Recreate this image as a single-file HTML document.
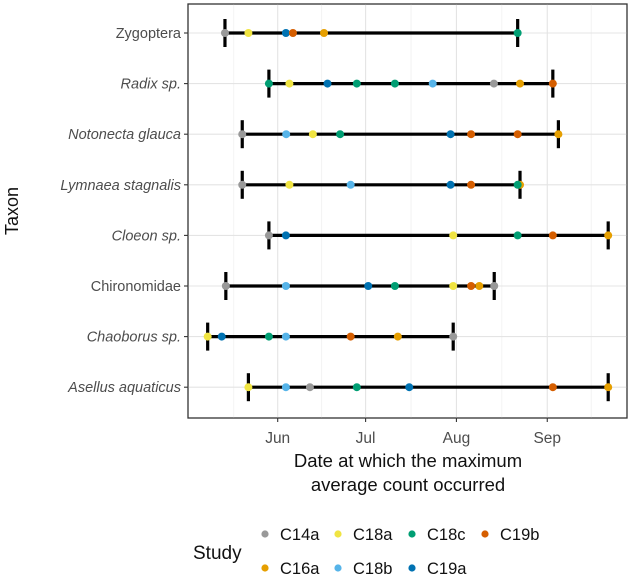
<!DOCTYPE html>
<html><head><meta charset="utf-8"><style>
body{margin:0;background:#fff}
svg{display:block;font-family:"Liberation Sans",Arial,sans-serif}
</style></head><body>
<svg id="chart" width="633" height="578">
<rect x="188" y="4" width="439" height="414" fill="#fff" stroke="#333" stroke-width="1.3"/>
<g id="grid"></g><g id="rows"></g><g id="axes"></g>
<text x="408" y="467" font-size="18.5" text-anchor="middle" fill="#111">Date at which the maximum</text>
<text x="408" y="491" font-size="18.5" text-anchor="middle" fill="#111">average count occurred</text>
<text transform="translate(18,211) rotate(-90)" font-size="18" text-anchor="middle" fill="#111">Taxon</text>
<text x="193" y="559" font-size="19" fill="#111">Study</text>
<g id="legend"></g>
</svg>
<script>
const taxa=["Zygoptera","Radix sp.","Notonecta glauca","Lymnaea stagnalis","Cloeon sp.","Chironomidae","Chaoborus sp.","Asellus aquaticus"];
const italic=[false,true,true,true,true,false,true,true];
const studies=["C14a","C18a","C18c","C19b","C16a","C18b","C19a"];
const colors={C14a:"#999999",C18a:"#F0E442",C18c:"#009E73",C19b:"#D55E00",C16a:"#E69F00",C18b:"#56B4E9",C19a:"#0072B2"};
// [study, day-of-year]
const zyg=[["C14a",134],["C18a",142],["C19a",154.8],["C19b",157.2],["C16a",167.8],["C18c",233.9]];
const radix=[["C18c",149],["C18a",156],["C19a",169],["C18c",179],["C18c",192],["C18b",204.9],["C14a",225.8],["C16a",234.7],["C19b",245.9]];
const noto=[["C14a",139.9],["C18b",154.9],["C18a",164],["C18c",173.3],["C19a",211],["C19b",218],["C19b",233.9],["C16a",247.8]];
const lymn=[["C14a",139.9],["C18a",156],["C18b",176.9],["C19a",211],["C19b",218],["C16a",234.7],["C18c",233.9]];
const cloe=[["C14a",149],["C19a",154.8],["C18a",211.9],["C18c",233.9],["C19b",245.9],["C16a",264.8]];
const chir=[["C14a",134.3],["C18b",154.8],["C19a",182.9],["C18c",192],["C18a",211.9],["C19b",218],["C16a",220.8],["C14a",225.9]];
const chao=[["C18a",128.1],["C19a",132.9],["C18c",149],["C18b",154.8],["C19b",176.9],["C16a",193],["C14a",211.9]];
const asel=[["C18a",142],["C18b",154.8],["C14a",163],["C18c",179],["C19a",196.9],["C19b",245.9],["C16a",264.8]];
const series=[zyg,radix,noto,lymn,cloe,chir,chao,asel];
const tickDays=[152,182,213,244];
const tickLabels=["Jun","Jul","Aug","Sep"];
const minorDays=[137,167,197.5,228.5,259];
const NS="http://www.w3.org/2000/svg";
const x=d=>277.7+(d-152)*2.93;
const y=i=>33+i*50.6;
function mk(t,a,p){const e=document.createElementNS(NS,t);for(const k in a)e.setAttribute(k,a[k]);p.appendChild(e);return e;}
const grid=document.getElementById('grid'),rows=document.getElementById('rows'),axes=document.getElementById('axes'),leg=document.getElementById('legend');
minorDays.forEach(d=>{const l=mk('line',{x1:x(d),x2:x(d),y1:4.6,y2:417.4,stroke:'#f0f0f0','stroke-width':0.8},grid);

});
tickDays.forEach((d,i)=>{const l=mk('line',{x1:x(d),x2:x(d),y1:4.6,y2:417.4,stroke:'#e4e4e4','stroke-width':1.1},grid);


const t=mk('line',{x1:x(d),x2:x(d),y1:418,y2:422,stroke:'#333','stroke-width':1.1},axes);


const tx=mk('text',{x:x(d),y:443,'font-size':15.5,'text-anchor':'middle',fill:'#4d4d4d'},axes);tx.textContent=tickLabels[i];

});
taxa.forEach((n,i)=>{const l=mk('line',{x1:188.6,x2:626.4,y1:y(i),y2:y(i),stroke:'#e4e4e4','stroke-width':1.1},grid);


const t=mk('line',{x1:184,x2:188,y1:y(i),y2:y(i),stroke:'#333','stroke-width':1.1},axes);


const tx=mk('text',{x:181,y:y(i)+5,'font-size':14.5,'text-anchor':'end',fill:'#4d4d4d','font-style':italic[i]?'italic':'normal'},axes);tx.textContent=n;


const s=series[i];const ds=s.map(p=>p[1]);const mn=Math.min(...ds),mx=Math.max(...ds);
const g=mk('g',{},rows);


mk('line',{x1:x(mn),x2:x(mx),y1:y(i),y2:y(i),stroke:'#000','stroke-width':3.2},g);
[mn,mx].forEach(d=>mk('line',{x1:x(d),x2:x(d),y1:y(i)-14,y2:y(i)+14,stroke:'#000','stroke-width':3.2},g));
s.forEach(p=>{const c=mk('circle',{cx:x(p[1]),cy:y(i),r:4,fill:colors[p[0]]},g);

});
});
const legPos=[[265,534],[338,534],[412,534],[485,534],[265,568],[338,568],[412,568]];
studies.forEach((s,i)=>{const g=mk('g',{},leg);


mk('circle',{cx:legPos[i][0],cy:legPos[i][1],r:3.6,fill:colors[s]},g);
const t=mk('text',{x:legPos[i][0]+15,y:legPos[i][1]+6,'font-size':16.5,fill:'#111'},g);t.textContent=s;});
</script>
</body></html>
